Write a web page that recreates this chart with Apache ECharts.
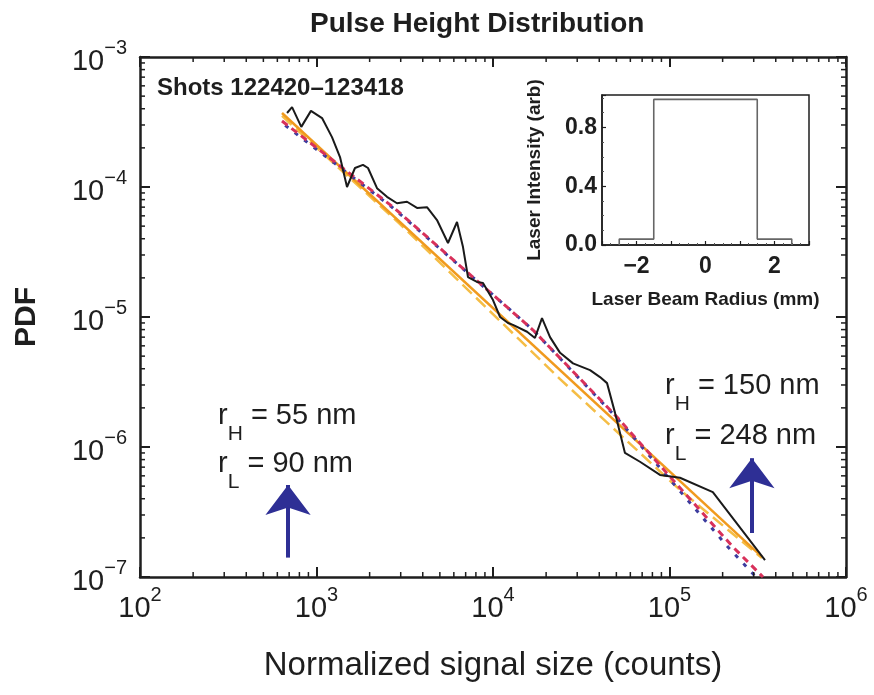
<!DOCTYPE html>
<html><head><meta charset="utf-8">
<script src="https://cdn.jsdelivr.net/npm/echarts@6/dist/echarts.min.js"></script>
<style>html,body{margin:0;padding:0;background:#fff}#c{width:874px;height:695px}</style>
</head><body><div id="c"></div>
<script>
// ---- main plot data ----
const signalX = [681, 727, 820, 930, 1075, 1224, 1359, 1489, 1652, 1834, 1958, 2202, 2508, 2858, 3258, 3710, 4227, 4816, 5559, 6252, 6761, 7216, 8114, 8777, 10000, 10965, 12162, 12980, 15590, 17290, 18950, 21040, 23990, 28400, 35460, 40390, 44270, 49130, 55930, 68030, 88340, 114600, 176000, 347600];
const pdfY = [3.71e-4, 4.12e-4, 2.9e-4, 3.85e-4, 3.39e-4, 2.42e-4, 1.70e-4, 1.0e-4, 1.40e-4, 1.48e-4, 1.40e-4, 9.8e-5, 8.4e-5, 7.5e-5, 7.7e-5, 6.9e-5, 7.0e-5, 5.57e-5, 3.71e-5, 5.38e-5, 3.45e-5, 2.03e-5, 1.86e-5, 1.83e-5, 1.35e-5, 1.0e-5, 9.0e-6, 8.7e-6, 7.7e-6, 6.9e-6, 9.8e-6, 7.0e-6, 5.3e-6, 4.4e-6, 3.9e-6, 3.45e-6, 3.1e-6, 1.83e-6, 9.0e-7, 7.7e-7, 6.1e-7, 5.8e-7, 4.5e-7, 1.35e-7];

const redFitX = [637.6, 2713, 12162, 16850, 50410, 104660, 229000, 338600];
const redFitY = [3.22e-4, 7.02e-5, 1.173e-5, 7.94e-6, 1.70e-6, 5.57e-7, 1.70e-7, 1.0e-7];
const blueFitX = [637.6, 2713, 12162, 16850, 50410, 104660, 214500, 309000];
const blueFitY = [3.11e-4, 6.9e-5, 1.173e-5, 7.94e-6, 1.67e-6, 5.29e-7, 1.70e-7, 1.0e-7];
const orangeFitX = [637.6, 334200];
const orangeFitY = [3.71e-4, 1.43e-7];
const yellowFitX = [637.6, 2972, 23990, 114700, 334200];
const yellowFitY = [3.52e-4, 5.19e-5, 3.33e-6, 4.67e-7, 1.40e-7];

// arrows marking the size limits: [x, yStart, yTip]
const arrowLeft = [690, 1.41e-7, 5.1e-7];
const arrowRight = [293000, 2.18e-7, 8.2e-7];

// axis ranges
const X_MIN = 1e2, X_MAX = 1e6, Y_MIN = 1e-7, Y_MAX = 1e-3;
const xMinorDecades = [2, 3, 4, 5];
const yMinorDecades = [-7, -6, -5, -4];
const minorMult = [2, 3, 4, 5, 6, 7, 8, 9];

// ---- inset data ----
const beamRadius = [-2.5, -2.5, -1.5, -1.5, 1.5, 1.5, 2.5, 2.5];
const laserIntensity = [0, 0.04, 0.04, 0.99, 0.99, 0.04, 0.04, 0];
const insetYTicks = [0, 0.4, 0.8];
const insetXTicks = [-2, 0, 2];

// ---- texts ----
const titleText = 'Pulse Height Distribution';
const shotsText = 'Shots 122420\u2013123418';
const xName = 'Normalized signal size (counts)';
const yName = 'PDF';
const insetXName = 'Laser Beam Radius (mm)';
const insetYName = 'Laser Intensity (arb)';
const leftR = [['H', '55 nm'], ['L', '90 nm']];
const rightR = [['H', '150 nm'], ['L', '248 nm']];

const FONT = "'Liberation Sans', Arial, Helvetica, sans-serif";
const INK = '#1e1e1e';

const zip = (a, b) => a.map((v, i) => [v, b[i]]);

const minorData = [];
xMinorDecades.forEach(d => minorMult.forEach(m => minorData.push([m * Math.pow(10, d), Y_MIN, 0])));
yMinorDecades.forEach(d => minorMult.forEach(m => minorData.push([X_MIN, m * Math.pow(10, d), 1])));

function expLabel(v) {
  const e = Math.round(Math.log10(v));
  return '{b|10}{s|' + (e < 0 ? '\u2212' + (-e) : e) + '}';
}
const expRich = {
  b: {fontSize: 29, lineHeight: 38, verticalAlign: 'bottom', fontFamily: FONT, color: INK},
  s: {fontSize: 20, lineHeight: 22, verticalAlign: 'top', fontFamily: FONT, color: INK}
};

function minorTickRender(params, api) {
  const kind = api.value(2);
  const st = {stroke: INK, lineWidth: 1.5};
  if (kind === 0) {
    const v = api.value(0);
    const b = api.coord([v, Y_MIN]), t = api.coord([v, Y_MAX]);
    return {type: 'group', children: [
      {type: 'line', shape: {x1: b[0], y1: b[1], x2: b[0], y2: b[1] - 5}, style: st},
      {type: 'line', shape: {x1: t[0], y1: t[1], x2: t[0], y2: t[1] + 5}, style: st}
    ]};
  }
  const v = api.value(1);
  const l = api.coord([X_MIN, v]), r = api.coord([X_MAX, v]);
  return {type: 'group', children: [
    {type: 'line', shape: {x1: l[0], y1: l[1], x2: l[0] + 5, y2: l[1]}, style: st},
    {type: 'line', shape: {x1: r[0], y1: r[1], x2: r[0] - 5, y2: r[1]}, style: st}
  ]};
}

function rText(x, y, sub, rest) {
  return {
    type: 'text', x: x, y: y, silent: true,
    style: {
      text: '{b|r}{s|' + sub + '}{b| = ' + rest + '}',
      rich: {
        b: {fontSize: 29, lineHeight: 34, verticalAlign: 'top', fontFamily: FONT, fill: INK},
        s: {fontSize: 21, lineHeight: 22, verticalAlign: 'top', padding: [23, 0, 0, 0], fontFamily: FONT, fill: INK}
      }
    }
  };
}

const logAxisCommon = {
  type: 'log', logBase: 10,
  axisLine: {lineStyle: {color: INK, width: 2.5}},
  axisTick: {inside: true, length: 10, lineStyle: {color: INK, width: 2}},
  splitLine: {show: false}
};

const chart = echarts.init(document.getElementById('c'), null, {renderer: 'canvas'});
chart.setOption({
  backgroundColor: '#fff',
  animation: false,
  title: {
    text: titleText, left: 305, top: 5,
    textStyle: {fontSize: 28, fontWeight: 'bold', color: INK, fontFamily: FONT}
  },
  grid: [
    {left: 140, top: 57, width: 706, height: 520, outerBoundsMode: 'none', containLabel: false},
    {left: 602, top: 95, width: 207, height: 150, outerBoundsMode: 'none', containLabel: false,
     show: true, borderColor: INK, borderWidth: 1.5, backgroundColor: '#fff'}
  ],
  xAxis: [
    Object.assign({}, logAxisCommon, {
      gridIndex: 0, position: 'bottom', min: X_MIN, max: X_MAX,
      axisLabel: {margin: 8, formatter: expLabel, rich: expRich},
      name: xName, nameLocation: 'middle', nameGap: 72,
      nameTextStyle: {fontSize: 33, color: INK, fontFamily: FONT}
    }),
    Object.assign({}, logAxisCommon, {
      gridIndex: 0, position: 'top', min: X_MIN, max: X_MAX, axisLabel: {show: false}
    }),
    {
      type: 'value', gridIndex: 1, min: -3, max: 3, interval: 1,
      axisLine: {onZero: false, lineStyle: {color: INK, width: 1.5}},
      axisTick: {inside: true, length: 4, lineStyle: {color: INK, width: 1.2}},
      minorTick: {show: true, splitNumber: 4, length: 2, lineStyle: {color: '#555', width: 1}},
      splitLine: {show: false},
      axisLabel: {
        margin: 10, fontSize: 23, fontWeight: 'bold', color: INK, fontFamily: FONT,
        formatter: v => insetXTicks.indexOf(v) >= 0 ? (v < 0 ? '\u2212' + (-v) : String(v)) : ''
      },
      name: insetXName, nameLocation: 'middle', nameGap: 45,
      nameTextStyle: {fontSize: 19, fontWeight: 'bold', color: INK, fontFamily: FONT}
    }
  ],
  yAxis: [
    Object.assign({}, logAxisCommon, {
      gridIndex: 0, position: 'left', min: Y_MIN, max: Y_MAX,
      axisLabel: {margin: 13, formatter: expLabel, rich: expRich},
      name: yName, nameLocation: 'middle', nameGap: 98,
      nameTextStyle: {fontSize: 30, fontWeight: 'bold', color: INK, fontFamily: FONT}
    }),
    Object.assign({}, logAxisCommon, {
      gridIndex: 0, position: 'right', min: Y_MIN, max: Y_MAX, axisLabel: {show: false}
    }),
    {
      type: 'value', gridIndex: 1, min: 0, max: 1.02, interval: 0.4,
      axisLine: {onZero: false, lineStyle: {color: INK, width: 1.5}},
      axisTick: {inside: true, length: 4, lineStyle: {color: INK, width: 1.2}},
      minorTick: {show: true, splitNumber: 4, length: 2, lineStyle: {color: '#555', width: 1}},
      splitLine: {show: false},
      axisLabel: {
        margin: 5, fontSize: 23, fontWeight: 'bold', color: INK, fontFamily: FONT,
        formatter: v => insetYTicks.some(t => Math.abs(t - v) < 1e-9) ? v.toFixed(1) : ''
      },
      name: insetYName, nameLocation: 'middle', nameGap: 58,
      nameTextStyle: {fontSize: 19, fontWeight: 'bold', color: INK, fontFamily: FONT}
    }
  ],
  series: [
    {
      type: 'custom', xAxisIndex: 0, yAxisIndex: 0, data: minorData, renderItem: minorTickRender,
      clip: false, silent: true, z: 5
    },
    {
      name: 'fit yellow', type: 'line', xAxisIndex: 0, yAxisIndex: 0, data: zip(yellowFitX, yellowFitY),
      showSymbol: false, symbol: 'none', lineStyle: {color: '#f5bd45', width: 2.5, type: [13, 6]}, z: 2
    },
    {
      name: 'fit orange', type: 'line', xAxisIndex: 0, yAxisIndex: 0, data: zip(orangeFitX, orangeFitY),
      showSymbol: false, symbol: 'none', lineStyle: {color: '#f09a1e', width: 2.5}, z: 2
    },
    {
      name: 'fit blue', type: 'line', xAxisIndex: 0, yAxisIndex: 0, data: zip(blueFitX, blueFitY),
      showSymbol: false, symbol: 'none', lineStyle: {color: '#3c3c9e', width: 3, type: [4, 8], dashOffset: 8}, z: 3
    },
    {
      name: 'fit red', type: 'line', xAxisIndex: 0, yAxisIndex: 0, data: zip(redFitX, redFitY),
      showSymbol: false, symbol: 'none', lineStyle: {color: '#d8315b', width: 3, type: [7, 5]}, z: 3,
      markLine: {
        silent: true, symbol: ['none', 'arrow'], symbolSize: [34, 30],
        label: {show: false}, emphasis: {disabled: true},
        lineStyle: {color: '#2e2f95', width: 4, type: 'solid'},
        data: [
          [{coord: [arrowLeft[0], arrowLeft[1]]}, {coord: [arrowLeft[0], arrowLeft[2]]}],
          [{coord: [arrowRight[0], arrowRight[1]]}, {coord: [arrowRight[0], arrowRight[2]]}]
        ]
      }
    },
    {
      name: 'data', type: 'line', xAxisIndex: 0, yAxisIndex: 0, data: zip(signalX, pdfY),
      showSymbol: false, symbol: 'none', lineStyle: {color: '#1a1a1a', width: 2}, z: 4
    },
    {
      name: 'beam', type: 'line', xAxisIndex: 2, yAxisIndex: 2, data: zip(beamRadius, laserIntensity),
      showSymbol: false, symbol: 'none', lineStyle: {color: '#666', width: 1.6}, z: 6
    }
  ],
  graphic: [
    {type: 'text', x: 157, y: 76, silent: true,
     style: {text: shotsText, fontSize: 24, fontWeight: 'bold', fontFamily: FONT, fill: INK}},
    rText(218, 401, leftR[0][0], leftR[0][1]),
    rText(218, 449, leftR[1][0], leftR[1][1]),
    rText(665, 371, rightR[0][0], rightR[0][1]),
    rText(665, 421, rightR[1][0], rightR[1][1])
  ]
});
</script>
</body></html>
